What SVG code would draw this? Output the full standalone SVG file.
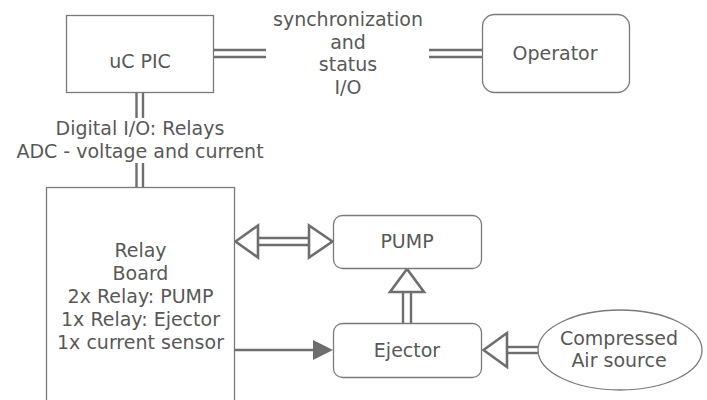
<svg xmlns="http://www.w3.org/2000/svg" width="707" height="400" viewBox="0 0 707 400">
<style>
.box{fill:#fff;stroke:#7a7a7a;stroke-width:1.3}
.t{font-family:"DejaVu Sans",Verdana,sans-serif;font-size:19px;fill:#585858;text-anchor:middle}
.dl{stroke:#6e6e6e;stroke-width:2.4;fill:none}
.hh{fill:#fff;stroke:#6e6e6e;stroke-width:2.6;stroke-linejoin:miter}
.fh{fill:#6e6e6e;stroke:none}
</style>
<rect width="707" height="400" fill="#fff"/>
<g id="connectors">
<line class="dl" x1="213" y1="50" x2="266" y2="50"/>
<line class="dl" x1="213" y1="57" x2="266" y2="57"/>
<line class="dl" x1="429" y1="50" x2="482" y2="50"/>
<line class="dl" x1="429" y1="57" x2="482" y2="57"/>
<line class="dl" x1="136.5" y1="92" x2="136.5" y2="118"/>
<line class="dl" x1="143" y1="92" x2="143" y2="118"/>
<line class="dl" x1="136.5" y1="163" x2="136.5" y2="187"/>
<line class="dl" x1="143" y1="163" x2="143" y2="187"/>
<line class="dl" x1="258" y1="238" x2="308" y2="238"/>
<line class="dl" x1="258" y1="245" x2="308" y2="245"/>
<polygon class="hh" points="235.5,241.5 258,225.5 258,257.5"/>
<polygon class="hh" points="332.5,241.5 309,225.5 309,257.5"/>
<line class="dl" x1="403" y1="292" x2="403" y2="323"/>
<line class="dl" x1="411" y1="292" x2="411" y2="323"/>
<polygon class="hh" points="407,269 390,292 424,292"/>
<line class="dl" x1="507" y1="347" x2="538" y2="347"/>
<line class="dl" x1="507" y1="353" x2="538" y2="353"/>
<polygon class="hh" points="483.5,350 507,333 507,367"/>
<line class="dl" x1="235" y1="350" x2="314" y2="350"/>
<polygon class="fh" points="313,340 333,350 313,360"/>
</g>
<g id="uc-pic">
<rect class="box" x="66.5" y="15.5" width="147" height="77"/>
<text class="t" x="140" y="68">uC PIC</text>
</g>
<g id="sync-label">
<text class="t" x="348" y="26">synchronization</text>
<text class="t" x="348" y="48.5">and</text>
<text class="t" x="348" y="71">status</text>
<text class="t" x="348" y="94">I/O</text>
</g>
<g id="operator">
<rect class="box" x="482.5" y="14.5" width="147" height="78" rx="12" ry="12"/>
<text class="t" x="555" y="60">Operator</text>
</g>
<g id="io-label">
<text class="t" x="140" y="135">Digital I/O: Relays</text>
<text class="t" x="140" y="157.5">ADC - voltage and current</text>
</g>
<g id="relay-board">
<rect class="box" x="46.5" y="187.5" width="188" height="220"/>
<text class="t" x="140.5" y="257">Relay</text>
<text class="t" x="140.5" y="280">Board</text>
<text class="t" x="140.5" y="303">2x Relay: PUMP</text>
<text class="t" x="140.5" y="326">1x Relay: Ejector</text>
<text class="t" x="140.5" y="349">1x current sensor</text>
</g>
<g id="pump">
<rect class="box" x="333.5" y="215.5" width="148" height="53" rx="9" ry="9"/>
<text class="t" x="407" y="248">PUMP</text>
</g>
<g id="ejector">
<rect class="box" x="333.5" y="323.5" width="148" height="54" rx="9" ry="9"/>
<text class="t" x="407" y="357">Ejector</text>
</g>
<g id="air-source">
<ellipse class="box" cx="620" cy="350" rx="82" ry="40"/>
<text class="t" x="619" y="345">Compressed</text>
<text class="t" x="619" y="367">Air source</text>
</g>
</svg>
